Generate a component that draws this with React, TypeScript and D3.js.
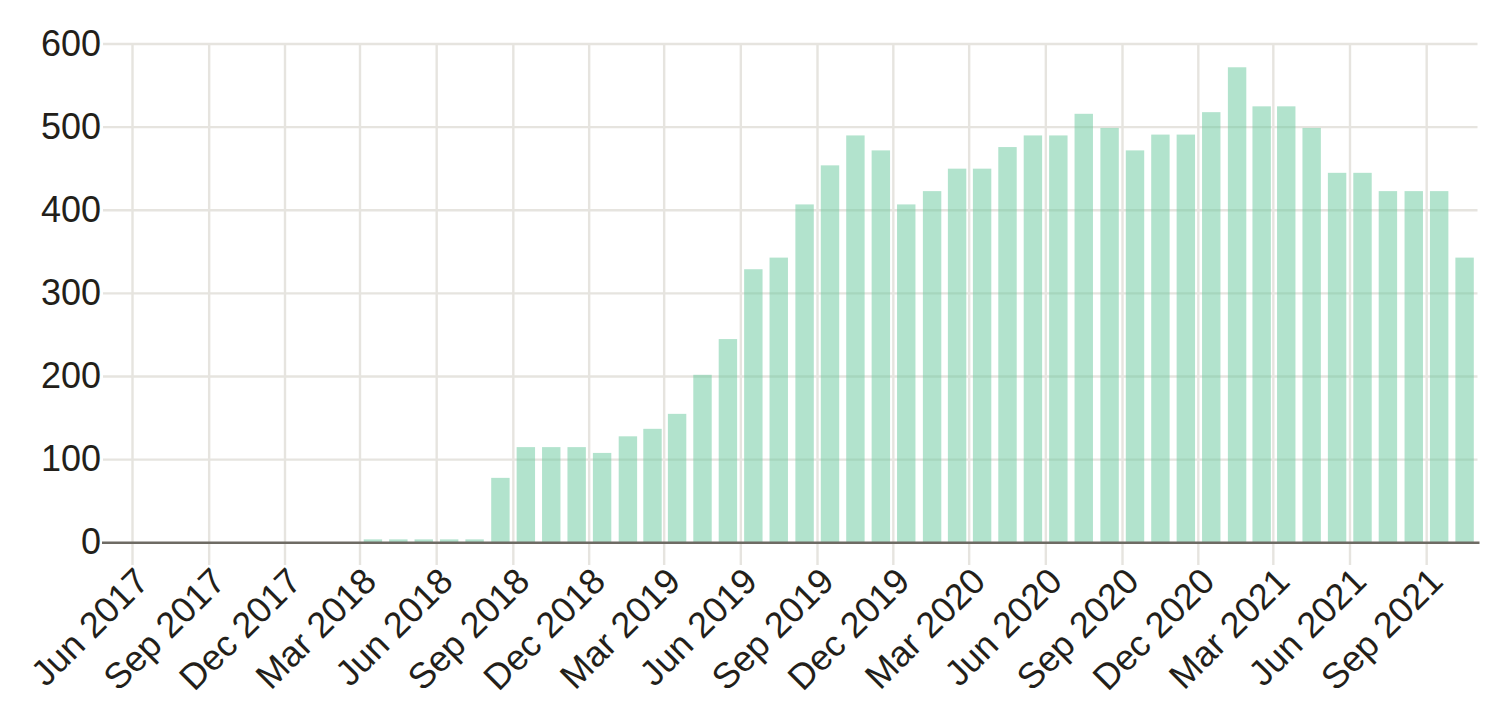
import React from "react";
import * as d3 from "d3";

const months: string[] = [
  "2018-03", "2018-04", "2018-05", "2018-06", "2018-07", "2018-08", "2018-09", "2018-10", "2018-11", "2018-12",
  "2019-01", "2019-02", "2019-03", "2019-04", "2019-05", "2019-06", "2019-07", "2019-08", "2019-09", "2019-10", "2019-11", "2019-12",
  "2020-01", "2020-02", "2020-03", "2020-04", "2020-05", "2020-06", "2020-07", "2020-08", "2020-09", "2020-10", "2020-11", "2020-12",
  "2021-01", "2021-02", "2021-03", "2021-04", "2021-05", "2021-06", "2021-07", "2021-08", "2021-09", "2021-10",
];
const values: number[] = [
  4, 4, 4, 4, 4, 78, 115, 115, 115, 108,
  128, 137, 155, 202, 245, 329, 343, 407, 454, 490, 472, 407,
  423, 450, 450, 476, 490, 490, 516, 499, 472, 491, 491, 518,
  572, 525, 525, 499, 445, 445, 423, 423, 423, 343,
];
const yTicks: number[] = [0, 100, 200, 300, 400, 500, 600];
const xTickLabels: string[] = [
  "Jun 2017", "Sep 2017", "Dec 2017", "Mar 2018", "Jun 2018", "Sep 2018", "Dec 2018",
  "Mar 2019", "Jun 2019", "Sep 2019", "Dec 2019", "Mar 2020", "Jun 2020", "Sep 2020",
  "Dec 2020", "Mar 2021", "Jun 2021", "Sep 2021",
];
const domainStart = "2017-06";
const domainEnd = "2021-11";

const parseMonth = d3.timeParse("%Y-%m");
const parseLabel = d3.timeParse("%b %Y");

export default function App() {
  const W = 1506, H = 716;
  const left = 103, right = 1477.5;
  const x = d3.scaleTime()
    .domain([parseMonth(domainStart)!, parseMonth(domainEnd)!])
    .range([132.5, 1477.5]);
  const y = d3.scaleLinear().domain([0, 600]).range([542.7, 44]);
  const font = "'Liberation Sans', Arial, Helvetica, sans-serif";
  const textColor = "#231f1a";
  const gridColor = "#e6e4df";
  const barW = 18.4;

  return (
    <svg width={W} height={H} style={{ position: "absolute", left: 0, top: 0 }} fontFamily={font}>
      <rect width={W} height={H} fill="#fff" />
      {yTicks.filter(t => t > 0).map(t => (
        <line key={"h" + t} x1={left} x2={right} y1={y(t)} y2={y(t)} stroke={gridColor} strokeWidth={2.4} />
      ))}
      {xTickLabels.map(l => {
        const xv = x(parseLabel(l)!);
        return <line key={"v" + l} x1={xv} x2={xv} y1={y(600)} y2={565} stroke={gridColor} strokeWidth={2.4} />;
      })}
      {months.map((m, i) => {
        const s = parseMonth(m)!;
        const e = d3.timeMonth.offset(s, 1);
        const cx = (x(s) + x(e)) / 2;
        return (
          <rect key={m} x={cx - barW / 2} width={barW} y={y(values[i])} height={y(0) - y(values[i])}
            fill="#66c89b" fillOpacity={0.5} />
        );
      })}
      <line x1={left - 1} x2={right + 2} y1={y(0)} y2={y(0)} stroke="#6e6b64" strokeWidth={2.6} />
      {yTicks.map(t => (
        <text key={"yl" + t} x={101} y={y(t)} dy="0.32em" textAnchor="end" fontSize={36} fill={textColor}>{t}</text>
      ))}
      {xTickLabels.map(l => {
        const xv = x(parseLabel(l)!);
        return (
          <text key={"xl" + l} transform={`translate(${xv},565) rotate(-45)`} dy="0.72em" textAnchor="end"
            fontSize={36} fill={textColor}>{l}</text>
        );
      })}
    </svg>
  );
}
